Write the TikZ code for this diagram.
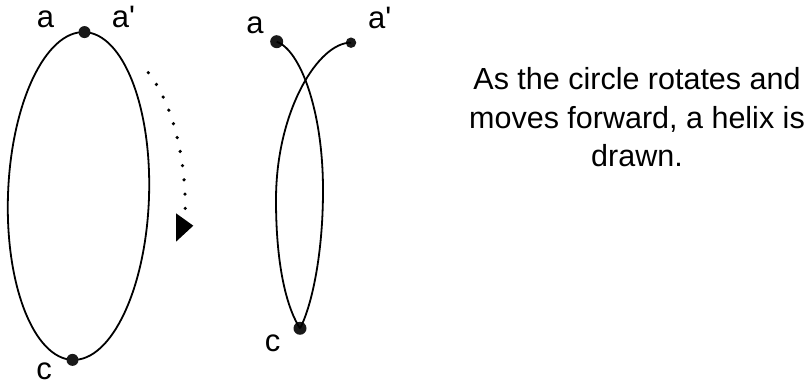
\documentclass[tikz,border=0pt]{standalone}
\usepackage{fontspec}
\setmainfont{Liberation Sans}
\begin{document}
\begin{tikzpicture}[x=1pt,y=1pt,
  dot/.style={circle,fill=black!90,inner sep=0pt,minimum size=#1},
  dot/.default=12pt,
  lbl/.style={inner sep=0pt,font=\fontsize{31}{36}\selectfont,anchor=base},
  curve/.style={line width=1.8pt},
  dotted arc/.style={line width=3.6pt,line cap=round,dash pattern=on 0pt off 14.3pt},
  body/.style={inner sep=0pt,align=center,font=\fontsize{30.5}{38.5}\selectfont}]
\useasboundingbox (0,0) rectangle (812,385);
% left circle
\draw[curve,rotate around={-2.1:(78.5,189)}] (78.5,189) ellipse (70.5 and 164);
\node[dot] (la) at (84.5,352.9) {};
\node[dot] (lc) at (72.5,25.1) {};
\node[lbl] (laL) at (45.5,357) {a};
\node[lbl,anchor=base west] (lapL) at (111.7,357) {a\textquotesingle};
\node[lbl] (lcL) at (44,5) {c};
% rotation arrow
\coordinate (arcS) at (148.3,312.3);
\coordinate (arcE) at (185.3,175);
\draw[dotted arc] (arcS) .. controls (170,285) and (185.5,235) .. (arcE);
\fill (176,171.7) -- (176,143.3) -- (193.3,159.3) -- cycle;
% right helix
\node[dot=13pt] (ra) at (276.7,343.3) {};
\node[dot=10.5pt] (rap) at (351,342.3) {};
\node[dot=13pt] (rc) at (300,56.7) {};
\draw[curve] (ra.center) .. controls (300,335) and (323,275) .. (323,195)
  .. controls (323,125) and (310,75) .. (rc.center);
\draw[curve] (rap.center) .. controls (319,343) and (276,275) .. (276,185)
  .. controls (276,115) and (288,75) .. (rc.center);
\node[lbl] (raL) at (255,351.7) {a};
\node[lbl,anchor=base west] (rapL) at (368,356.7) {a\textquotesingle};
\node[lbl] (rcL) at (272.5,33.3) {c};
% text
\node[body] (txt) at (637,267.5) {As the circle rotates and\\moves forward, a helix is\\drawn.};
\end{tikzpicture}
\end{document}
